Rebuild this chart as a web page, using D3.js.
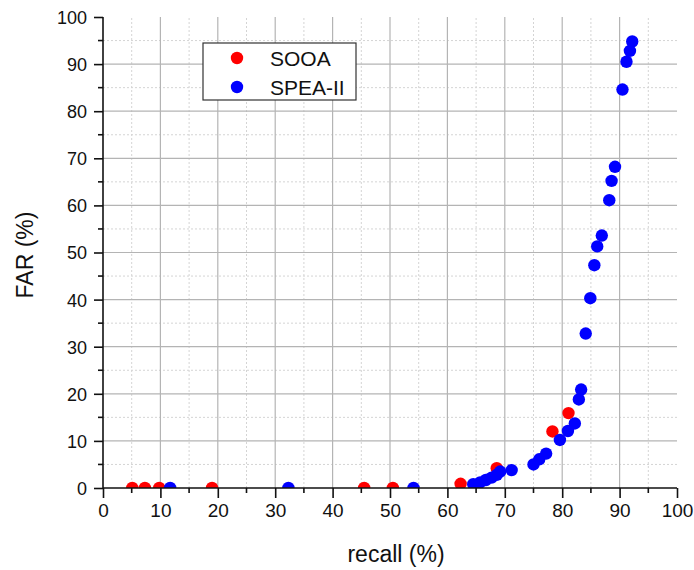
<!DOCTYPE html>
<html>
<head>
<meta charset="utf-8">
<script src="https://cdn.jsdelivr.net/npm/d3@7"></script>
<style>
  body { margin: 0; background: #fff; }
  svg text { font-family: "Liberation Sans", Arial, sans-serif; fill: #111; }
</style>
</head>
<body>
<div id="chart"></div>
<script>
// values
var sooaRecall = [5.1, 7.3, 9.8, 19.0, 45.5, 50.5, 62.3, 68.6, 78.3, 81.1];
var sooaFar    = [0, 0, 0, 0, 0, 0, 0.9, 4.2, 12.0, 15.9];

var speaRecall = [11.7, 32.3, 54.1, 64.5, 65.7, 66.7, 67.7, 68.6, 69.2, 71.2,
                  75.0, 76.0, 77.2, 79.6, 81.0, 82.2, 82.9, 83.3, 84.1, 84.9,
                  85.6, 86.1, 86.9, 88.2, 88.6, 89.2, 90.5, 91.2, 91.8, 92.2];
var speaFar    = [0, 0, 0, 0.8, 1.2, 1.7, 2.2, 2.8, 3.5, 3.8,
                  5.0, 6.1, 7.3, 10.2, 12.1, 13.7, 18.8, 20.9, 32.8, 40.3,
                  47.3, 51.3, 53.6, 61.1, 65.2, 68.2, 84.6, 90.5, 92.8, 94.8];

var seriesNames = ["SOOA", "SPEA-II"];
var seriesColors = ["#ff0000", "#0000ff"];
var majorTicks = [0, 10, 20, 30, 40, 50, 60, 70, 80, 90, 100];
var minorTicks = [5, 15, 25, 35, 45, 55, 65, 75, 85, 95];

var W = 694, H = 570;
var margin = {top: 17, right: 17, bottom: 82, left: 103};

var svg = d3.select("#chart").append("svg")
    .attr("width", W).attr("height", H);

var x = d3.scaleLinear().domain([0, 100]).range([margin.left, W - margin.right]);
var y = d3.scaleLinear().domain([0, 100]).range([H - margin.bottom, margin.top]);

// clip for the markers: points sitting on 0 show only their upper half
svg.append("defs").append("clipPath").attr("id", "plotclip")
  .append("rect")
    .attr("x", x(0)).attr("y", 0)
    .attr("width", W - x(0)).attr("height", y(0));

// grid: dotted minor, solid major
var grid = svg.append("g");
grid.selectAll(".vmin").data(minorTicks).enter().append("line")
    .attr("x1", function(d){ return x(d); }).attr("x2", function(d){ return x(d); })
    .attr("y1", y(0)).attr("y2", y(100))
    .attr("stroke", "#d4d4d4").attr("stroke-width", 1).attr("stroke-dasharray", "2,2");
grid.selectAll(".hmin").data(minorTicks).enter().append("line")
    .attr("y1", function(d){ return y(d); }).attr("y2", function(d){ return y(d); })
    .attr("x1", x(0)).attr("x2", x(100))
    .attr("stroke", "#d4d4d4").attr("stroke-width", 1).attr("stroke-dasharray", "2,2");
var inner = majorTicks.filter(function(d){ return d > 0 && d < 100; });
grid.selectAll(".vmaj").data(inner).enter().append("line")
    .attr("x1", function(d){ return x(d); }).attr("x2", function(d){ return x(d); })
    .attr("y1", y(0)).attr("y2", y(100))
    .attr("stroke", "#b4b4b4").attr("stroke-width", 1.2);
grid.selectAll(".hmaj").data(inner).enter().append("line")
    .attr("y1", function(d){ return y(d); }).attr("y2", function(d){ return y(d); })
    .attr("x1", x(0)).attr("x2", x(100))
    .attr("stroke", "#b4b4b4").attr("stroke-width", 1.2);

var pts = svg.append("g").attr("clip-path", "url(#plotclip)");
var sooa = sooaRecall.map(function(v, i){ return [v, sooaFar[i]]; });
var spea = speaRecall.map(function(v, i){ return [v, speaFar[i]]; });
[sooa, spea].forEach(function(data, k) {
  pts.selectAll(".s" + k).data(data).enter().append("circle")
      .attr("class", "s" + k)
      .attr("cx", function(d){ return x(d[0]); })
      .attr("cy", function(d){ return y(d[1]); })
      .attr("r", 6.2)
      .attr("fill", seriesColors[k]);
});

// axes
var xAxis = svg.append("g").attr("transform", "translate(0," + y(0) + ")")
    .call(d3.axisBottom(x).tickValues(majorTicks).tickSize(10).tickPadding(6)
      .tickFormat(d3.format("d")));
xAxis.append("g").selectAll("line").data(minorTicks).enter().append("line")
    .attr("x1", function(d){ return x(d); }).attr("x2", function(d){ return x(d); })
    .attr("y1", 0).attr("y2", 5);

var yAxis = svg.append("g").attr("transform", "translate(" + x(0) + ",0)")
    .call(d3.axisLeft(y).tickValues(majorTicks).tickSize(9).tickPadding(7)
      .tickFormat(d3.format("d")));
yAxis.append("g").selectAll("line").data(minorTicks).enter().append("line")
    .attr("y1", function(d){ return y(d); }).attr("y2", function(d){ return y(d); })
    .attr("x1", 0).attr("x2", -5);

xAxis.select(".domain").remove();
yAxis.select(".domain").remove();
xAxis.append("line").attr("x1", x(0)).attr("x2", x(100)).attr("y1", 0).attr("y2", 0);
yAxis.append("line").attr("y1", y(0)).attr("y2", y(100)).attr("x1", 0).attr("x2", 0);
[xAxis, yAxis].forEach(function(a) {
  a.selectAll("line").attr("stroke", "#111").attr("stroke-width", 1.6);
  a.selectAll("text").attr("fill", "#111")
    .style("font-family", '"Liberation Sans", Arial, sans-serif');
});
xAxis.selectAll("text").style("font-size", "19px");
yAxis.selectAll("text").style("font-size", "18px").attr("dy", "0.36em");

// axis titles
svg.append("text").attr("x", 396).attr("y", 562)
    .attr("text-anchor", "middle").style("font-size", "23px").text("recall (%)");
svg.append("text").attr("transform", "translate(33,255) rotate(-90)")
    .attr("text-anchor", "middle").style("font-size", "23px").text("FAR (%)");

// legend
var lg = svg.append("g").attr("transform", "translate(203,43)");
lg.append("rect").attr("width", 153).attr("height", 57)
    .attr("fill", "#fff").attr("stroke", "#333").attr("stroke-width", 1.2);
seriesNames.forEach(function(name, i) {
  lg.append("circle").attr("cx", 34).attr("cy", 15 + i * 29).attr("r", 6.2)
      .attr("fill", seriesColors[i]);
  lg.append("text").attr("x", 67).attr("y", 15 + i * 29 + 7.5)
      .style("font-size", "21px").text(name);
});
</script>
</body>
</html>
